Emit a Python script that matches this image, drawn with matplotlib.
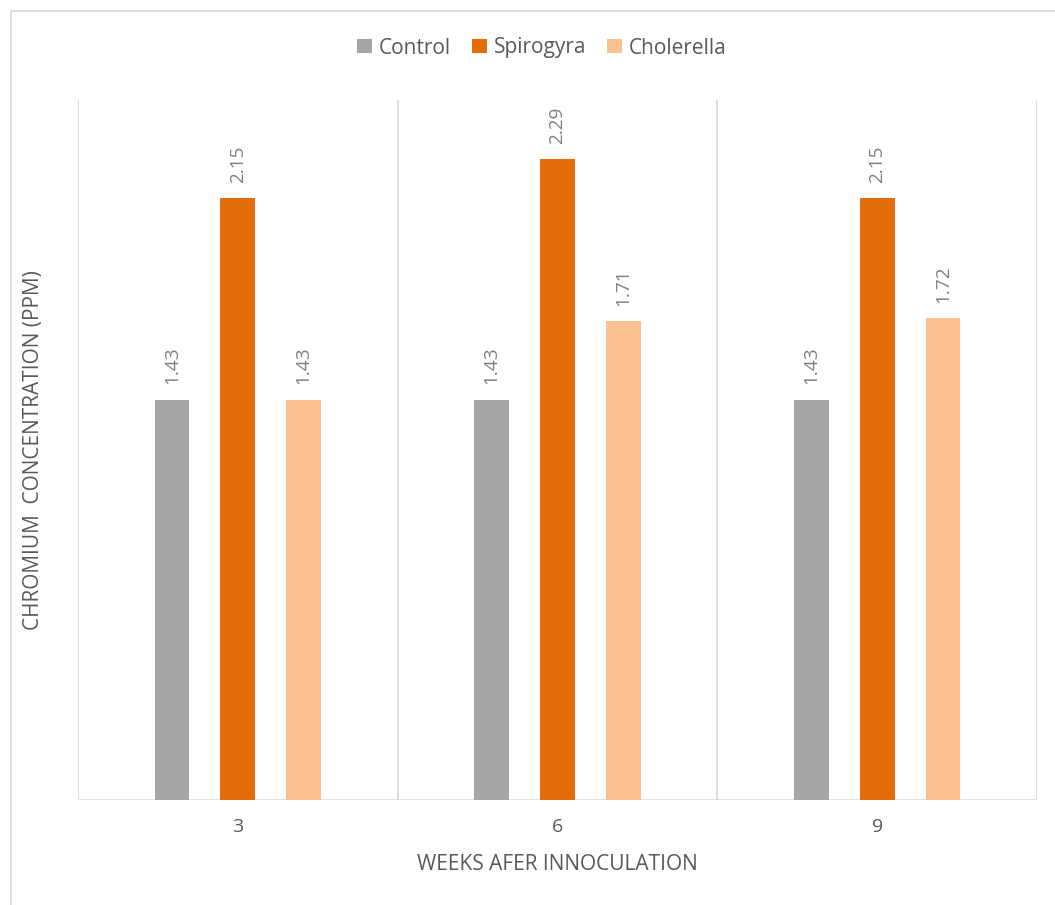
import matplotlib.pyplot as plt
from matplotlib.patches import Rectangle
import numpy as np

weeks = ['3', '6', '9']
series = ['Control', 'Spirogyra', 'Cholerella']
control = [1.43, 1.43, 1.43]
spirogyra = [2.15, 2.29, 2.15]
cholerella = [1.43, 1.71, 1.72]
colors = ['#A5A5A5', '#E46C0A', '#FAC090']

plt.rcParams['font.family'] = ['Open Sans', 'DejaVu Sans']

fig = plt.figure(figsize=(10.55, 9.05), dpi=100)
ax = fig.add_axes([78 / 1055, 105 / 905, (1037 - 78) / 1055, 700 / 905])

x = np.arange(len(weeks))
width = 0.109
offset = 0.206
for i, (name, vals) in enumerate(zip(series, [control, spirogyra, cholerella])):
    pos = x + (i - 1) * offset
    ax.bar(pos, vals, width, color=colors[i], label=name, zorder=3)
    for p, v in zip(pos, vals):
        ax.annotate(f'{v:.2f}', (p, v), xytext=(0, 11), textcoords='offset points',
                    rotation=90, ha='center', va='bottom', fontsize=13.7, color='#7F7F7F')

ax.set_xlim(-0.5, 2.5)
ax.set_ylim(0, 2.5)
for b in [-0.5, 0.5, 1.5, 2.5]:
    ax.axvline(b, color='#D9D9D9', lw=1.3, zorder=1)
for s in ax.spines.values():
    s.set_visible(False)
ax.axhline(0, color='#D9D9D9', lw=1.8, zorder=2)
ax.set_yticks([])
ax.set_xticks(x)
ax.set_xticklabels(weeks, fontsize=14, color='#595959')
ax.tick_params(axis='x', length=0, pad=13)
ax.set_xlabel('WEEKS AFER INNOCULATION', fontsize=15, color='#595959', labelpad=13)
fig.text(34 / 1055, 1 - 450 / 905, 'CHROMIUM  CONCENTRATION (PPM)', rotation=90,
         ha='center', va='center', fontsize=15, color='#595959')

fig.legend(loc='center', bbox_to_anchor=(542 / 1055, 1 - 48 / 905), ncol=3, frameon=False,
           fontsize=15, handlelength=0.7, handleheight=0.7, handletextpad=0.35,
           columnspacing=1.0, labelcolor='#595959')

fig.patches.append(Rectangle((11 / 1055, -0.1), 1.2, 1 - 11 / 905 + 0.1, transform=fig.transFigure,
                             fill=False, edgecolor='#D9D9D9', lw=1.3))

fig.savefig('out.png', dpi=100)
